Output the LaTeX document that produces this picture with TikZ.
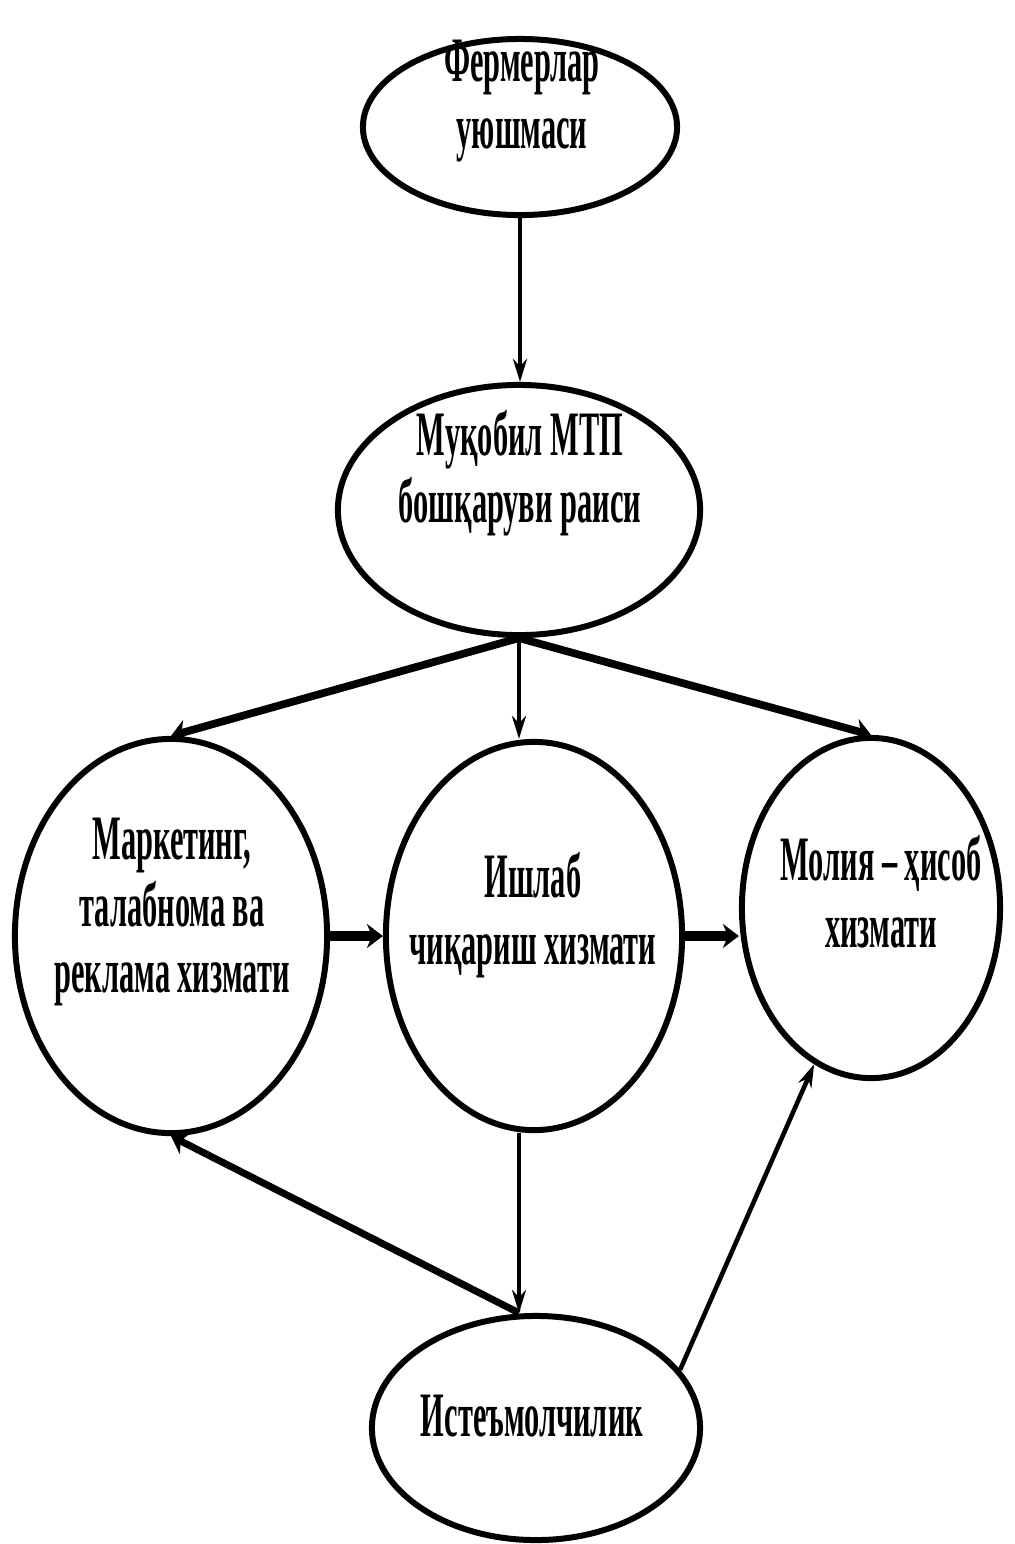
\documentclass[tikz,border=0pt]{standalone}
\usepackage{fontspec}
\newfontfamily\lblfont[FakeStretch=0.48]{Liberation Serif}
\usetikzlibrary{shapes.geometric,arrows.meta}

\begin{document}
\begin{tikzpicture}[x=0.01cm, y=-0.01cm,
    oval/.style={draw, ellipse, line width=1.7pt, inner sep=0pt},
    lbl/.style={align=center, font=\lblfont\bfseries\fontsize{18}{19}\selectfont},
    thin/.style={-{Stealth[length=2.3mm, width=1.4mm]}, line width=1.1pt},
    wide/.style={-{Stealth[length=1.6mm, width=2.4mm]}, line width=2.2pt}]
  \useasboundingbox (0,0) rectangle (1014,1544);
  % ovals
  \node[oval, minimum width=3.14cm, minimum height=1.76cm] (farm) at (520,127) {};
  \node[oval, minimum width=3.62cm, minimum height=2.5cm] (mtp) at (519,510) {};
  \node[oval, minimum width=3.12cm, minimum height=3.94cm] (mark) at (171,936) {};
  \node[oval, minimum width=2.96cm, minimum height=3.88cm] (prod) at (534,936) {};
  \node[oval, minimum width=2.58cm, minimum height=3.4cm] (fin) at (871,908) {};
  \node[oval, minimum width=3.28cm, minimum height=2.24cm] (cons) at (536,1428) {};
  % texts
  \node[lbl] (farmtxt) at (522,101) {Фермерлар\\уюшмаси};
  \node[lbl] (mtptxt) at (520,473) {Муқобил МТП\\бошқаруви раиси};
  \node[lbl] (marktxt) at (172,912) {Маркетинг,\\талабнома ва\\реклама хизмати};
  \node[lbl] (prodtxt) at (533,915) {Ишлаб\\чиқариш хизмати};
  \node[lbl] (fintxt) at (881,892) {Молия~– ҳисоб\\хизмати};
  \node[lbl] (constxt) at (532,1416) {Истеъмолчилик};
  % arrows
  \draw[thin] (farm.south) -- (farm.south |- mtp.north);
  \draw[wide] (mtp.south) -- (mark.north);
  \draw[thin] (mtp.south) -- (mtp.south |- prod.north);
  \draw[wide] (mtp.south) -- (fin.north);
  \draw[wide, line width=3pt] (mark.east) -- (prod.west);
  \draw[wide, line width=3pt] (prod.east) -- (prod.east -| fin.west);
  \draw[thin] (mtp.south |- prod.south) -- (mtp.south |- cons.north);
  \draw[wide, line width=2pt] (mtp.south |- cons.north) -- (mark.south);
  \draw[thin, line width=1.3pt] (cons.22) -- (fin.250);
\end{tikzpicture}
\end{document}
